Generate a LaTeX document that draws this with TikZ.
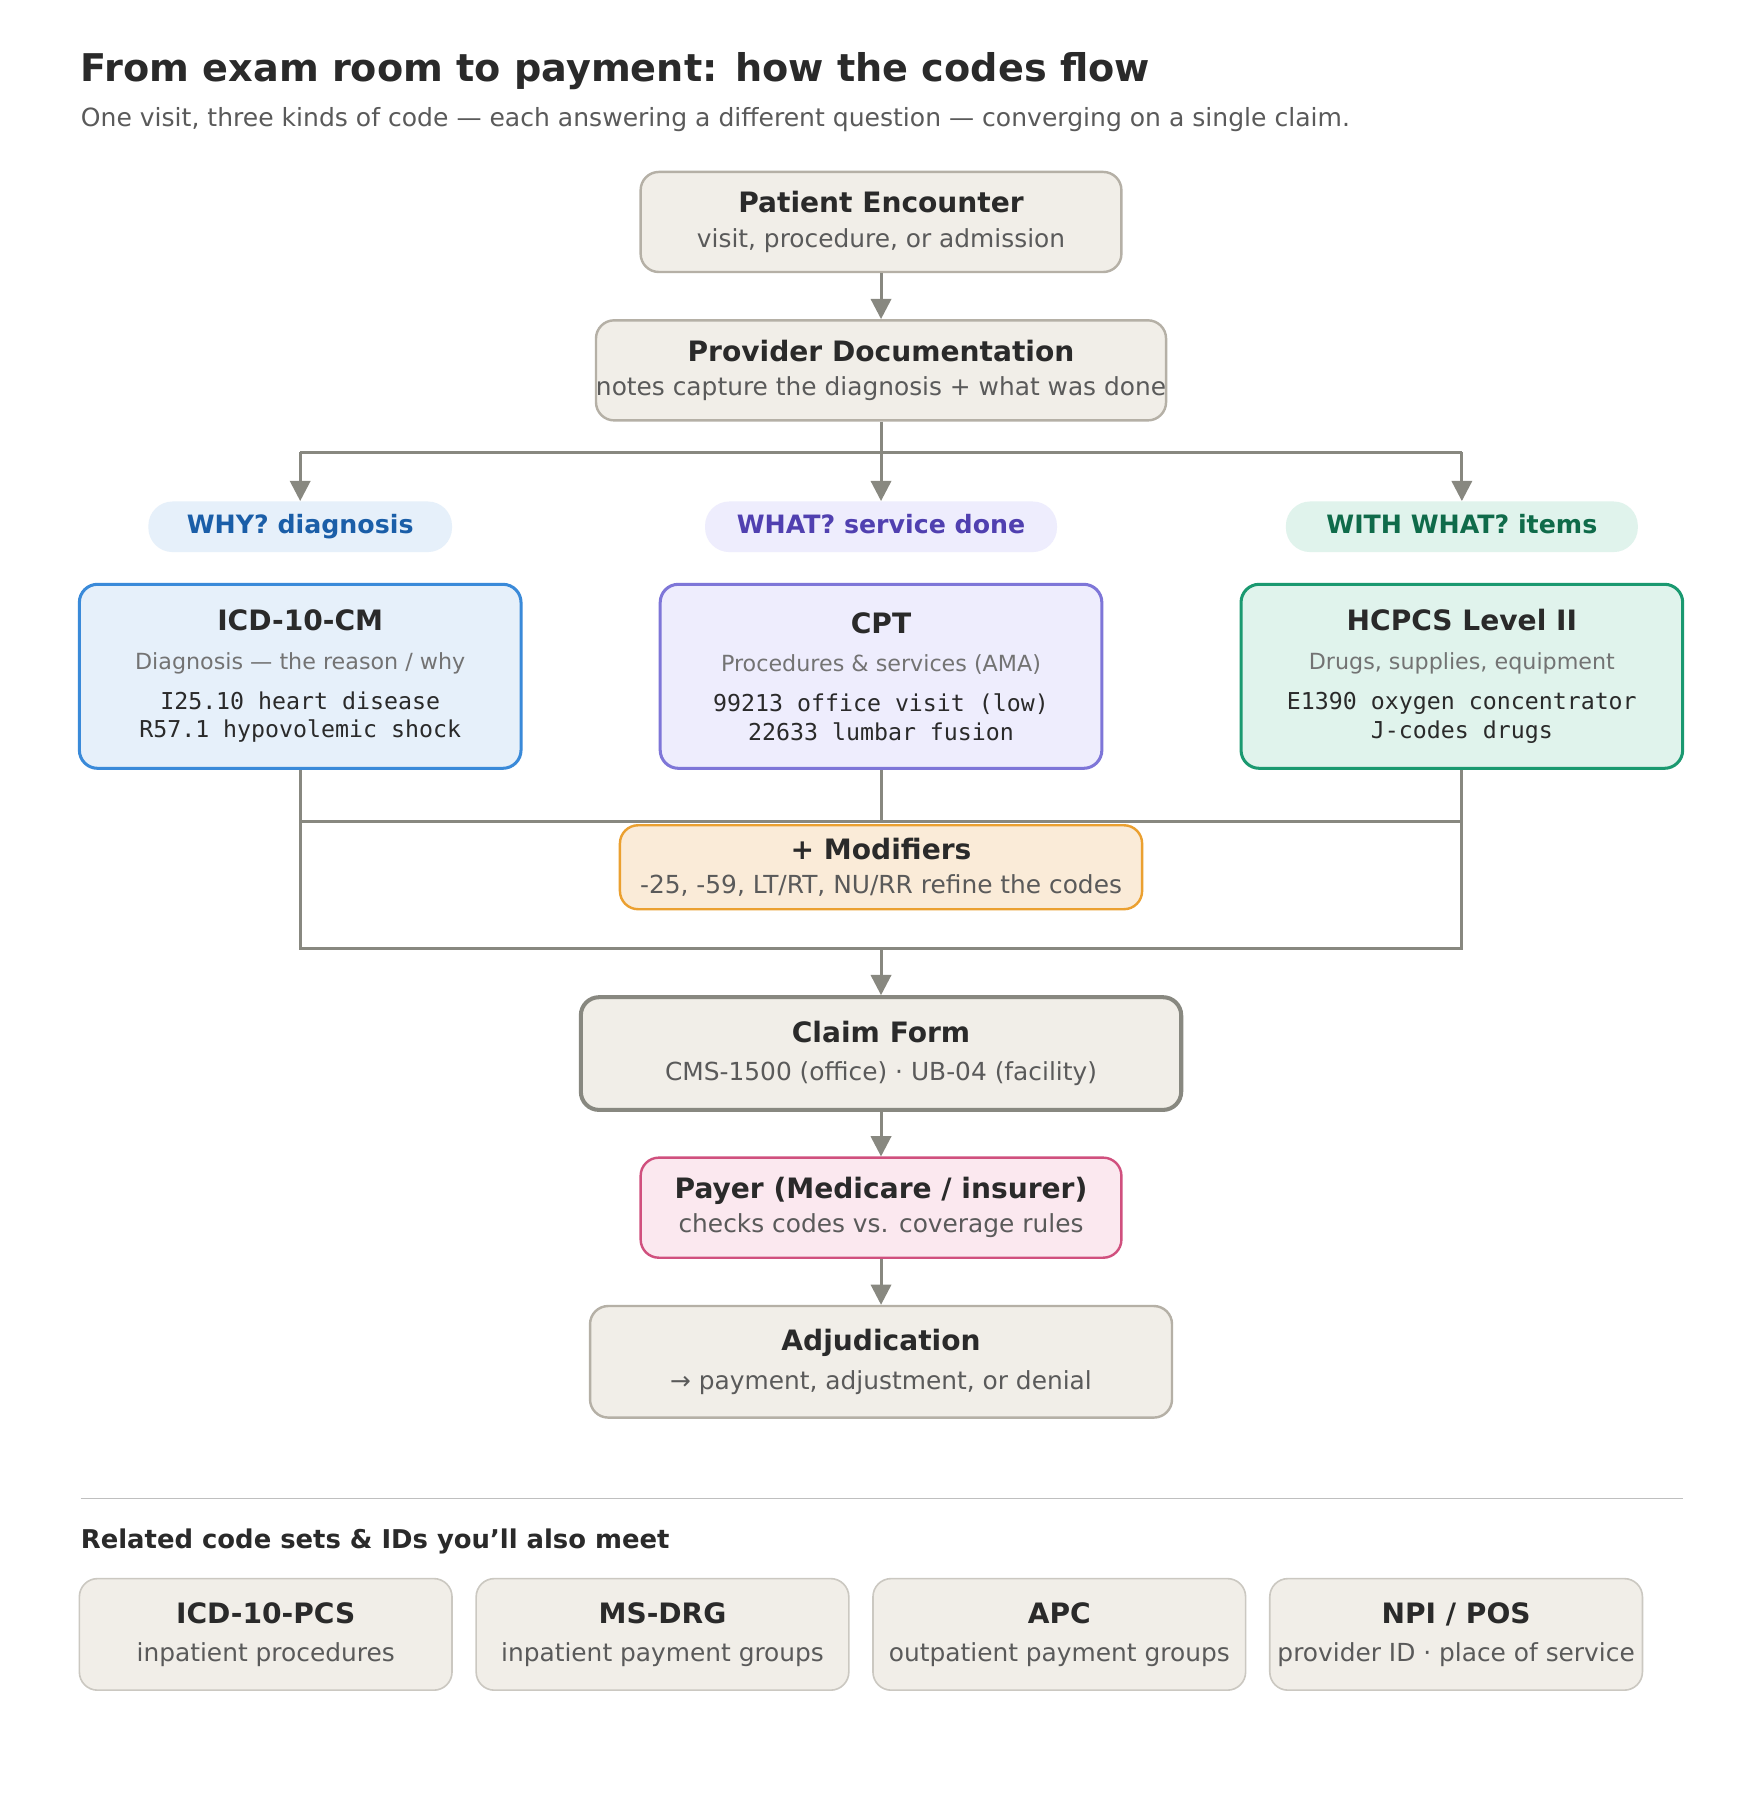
\documentclass[tikz,border=0pt]{standalone}
\usepackage{fontspec}
\setmainfont{DejaVu Sans}
\setmonofont{DejaVu Sans Mono}
\usetikzlibrary{arrows.meta,positioning,calc}
\definecolor{ink}{HTML}{2A2A2A}
\definecolor{soft}{HTML}{5A5A5A}
\definecolor{beige}{HTML}{F1EEE8}
\definecolor{beigeline}{HTML}{B5B0A6}
\definecolor{flow}{HTML}{888880}
\definecolor{bluefill}{HTML}{E6F0FA}\definecolor{blueline}{HTML}{3A8AD9}\definecolor{bluetext}{HTML}{1A5EA8}
\definecolor{purfill}{HTML}{EEEDFD}\definecolor{purline}{HTML}{7E76D8}\definecolor{purtext}{HTML}{5040B0}
\definecolor{grnfill}{HTML}{E0F3EC}\definecolor{grnline}{HTML}{1A9970}\definecolor{grntext}{HTML}{0F6B4A}
\definecolor{orgfill}{HTML}{FAEBD8}\definecolor{orgline}{HTML}{EBA030}
\definecolor{pnkfill}{HTML}{FBE8EF}\definecolor{pnkline}{HTML}{D0507E}
\tikzset{stepbox/.style={rounded corners=9pt, draw=beigeline, fill=beige, line width=1.2pt, align=center, inner sep=0pt, text=soft, font=\fontsize{12.3}{17}\selectfont}}
\tikzset{codebox/.style={rounded corners=9pt, line width=1.5pt, align=center, inner sep=0pt, minimum width=384*0.02cm, minimum height=160*0.02cm}}
\tikzset{pill/.style={rounded corners=12pt, inner sep=0pt, minimum height=44*0.02cm, text height=9pt, text depth=2.5pt, font=\bfseries\fontsize{12.5}{14}\selectfont}}
\tikzset{relbox/.style={stepbox, draw=beigeline!70, line width=0.8pt, minimum width=324*0.02cm, minimum height=97*0.02cm}}
\tikzset{arr/.style={draw=flow, line width=1.5pt, -{Triangle[length=10pt,width=10pt]}}}
\tikzset{ln/.style={draw=flow, line width=1.5pt}}
\newcommand{\hd}[1]{{\color{ink}\bfseries\fontsize{13.9}{17}\selectfont #1}}
\newcommand{\sm}[1]{{\color{soft!85}\fontsize{11}{13}\selectfont #1}}
\newcommand{\cd}[1]{{\color{ink}\ttfamily\fontsize{11.5}{16}\selectfont #1}}
\begin{document}
\begin{tikzpicture}[x=0.02cm,y=-0.02cm]
\useasboundingbox[fill=white] (0,0) rectangle (1530,1565);
\node[anchor=west, inner sep=0pt, text=ink, font=\bfseries\fontsize{18.9}{22}\selectfont] (title) at (70,62) {From exam room to payment: how the codes flow};
\node[anchor=west, inner sep=0pt, text=soft, font=\fontsize{12.4}{14}\selectfont] (sub) at (70,104) {One visit, three kinds of code — each answering a different question — converging on a single claim.};

% main flow
\node[stepbox, minimum width=418*0.02cm, minimum height=87*0.02cm] (enc) at (766,193) {\hd{Patient Encounter}\\ visit, procedure, or admission};
\node[stepbox, minimum width=488*0.02cm, minimum height=87*0.02cm] (doc) at (766,322) {\hd{Provider Documentation}\\ notes capture the diagnosis + what was done};
\draw[arr] (enc) -- (doc);

% questions
\node[pill, fill=bluefill, text=bluetext, minimum width=264*0.02cm] (why) at (261,458) {WHY? diagnosis};
\node[pill, fill=purfill, text=purtext, minimum width=306*0.02cm] (what) at (766,458) {WHAT? service done};
\node[pill, fill=grnfill, text=grntext, minimum width=306*0.02cm] (with) at (1271,458) {WITH WHAT? items};
\coordinate (split) at (766,393);
\draw[ln] (doc.south) -- (split);
\draw[ln] (why.north |- split) -- (with.north |- split);
\draw[arr] (split) -- (what.north);
\draw[arr] (why.north |- split) -- (why.north);
\draw[arr] (with.north |- split) -- (with.north);

% code sets
\node[codebox, draw=blueline, fill=bluefill] (icd) at (261,588) {\hd{ICD-10-CM}\\[7pt] \sm{Diagnosis — the reason / why}\\[8pt] \cd{I25.10 heart disease}\\[2pt] \cd{R57.1 hypovolemic shock}};
\node[codebox, draw=purline, fill=purfill] (cpt) at (766,588) {\hd{CPT}\\[7pt] \sm{Procedures \& services (AMA)}\\[8pt] \cd{99213 office visit (low)}\\[2pt] \cd{22633 lumbar fusion}};
\node[codebox, draw=grnline, fill=grnfill] (hcpcs) at (1271,588) {\hd{HCPCS Level II}\\[7pt] \sm{Drugs, supplies, equipment}\\[8pt] \cd{E1390 oxygen concentrator}\\[2pt] \cd{J-codes drugs}};

% modifiers and merge
\coordinate (mtop) at (766,714);
\coordinate (mbot) at (766,825);
\draw[ln] (icd.south) -- (icd.south |- mtop) -- (hcpcs.south |- mtop) -- (hcpcs.south);
\draw[ln] (cpt.south) -- (mtop);
\draw[ln] (icd.south |- mtop) -- (icd.south |- mbot) -- (hcpcs.south |- mbot) -- (hcpcs.south |- mtop);
\node[stepbox, draw=orgline, fill=orgfill, minimum width=454*0.02cm, minimum height=73*0.02cm] (mods) at (766,754) {\hd{+ Modifiers}\\ -25, -59, LT/RT, NU/RR refine the codes};

\node[stepbox, draw=flow, line width=2pt, minimum width=522*0.02cm, minimum height=98*0.02cm] (claim) at (766,916) {\hd{Claim Form}\\[2pt] CMS-1500 (office) · UB-04 (facility)};
\draw[arr] (mbot) -- (claim.north);
\node[stepbox, draw=pnkline, fill=pnkfill, minimum width=418*0.02cm, minimum height=87*0.02cm] (payer) at (766,1050) {\hd{Payer (Medicare / insurer)}\\ checks codes vs. coverage rules};
\draw[arr] (claim) -- (payer);
\node[stepbox, minimum width=506*0.02cm, minimum height=97*0.02cm] (adj) at (766,1184) {\hd{Adjudication}\\[2pt] → payment, adjustment, or denial};
\draw[arr] (payer) -- (adj);

% related
\draw[draw=black!25, line width=0.8pt] (70,1303) -- (1463,1303);
\node[anchor=west, inner sep=0pt, text=ink, font=\bfseries\fontsize{12.8}{14}\selectfont] (rel) at (70,1340) {Related code sets \& IDs you\symbol{39}ll also meet};
\node[relbox] (pcs) at (231,1421) {\hd{ICD-10-PCS}\\[2pt] inpatient procedures};
\node[relbox] (drg) at (576,1421) {\hd{MS-DRG}\\[2pt] inpatient payment groups};
\node[relbox] (apc) at (921,1421) {\hd{APC}\\[2pt] outpatient payment groups};
\node[relbox] (npi) at (1266,1421) {\hd{NPI / POS}\\[2pt] provider ID · place of service};
\end{tikzpicture}
\end{document}
